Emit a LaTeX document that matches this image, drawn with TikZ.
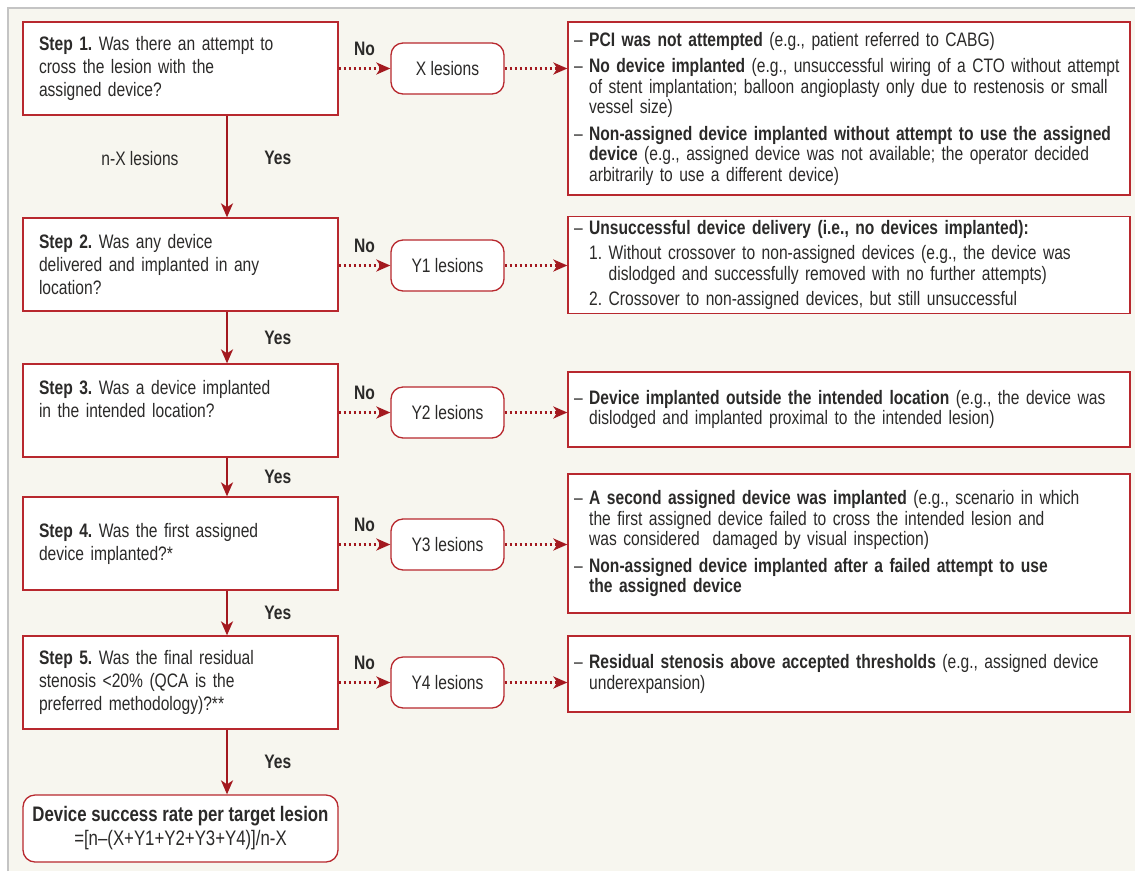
\documentclass[tikz,border=0pt]{standalone}
\usepackage{fontspec}
\setmainfont{Liberation Sans}[FakeStretch=0.8]
\usepackage{tikz}
\usetikzlibrary{positioning,arrows.meta}
\usepackage{xcolor}
\definecolor{boxred}{HTML}{B8282E}
\definecolor{arrred}{HTML}{A3191F}
\definecolor{panel}{HTML}{F7F6EF}
\definecolor{ink}{HTML}{2B2A29}
\definecolor{rim}{HTML}{C4C4C4}
\newcommand{\dind}{\hphantom{\textendash\ }}
\frenchspacing
\hyphenpenalty=10000

\begin{document}
\begin{tikzpicture}[x=1pt,y=-1pt,>={Stealth[length=14pt,width=12pt,inset=4pt]},
  stepbox/.style={draw=boxred,line width=1.3pt,fill=white,minimum width=315pt,minimum height=93pt,
    text width=283pt,inner xsep=16pt,align=left,text=ink,font=\fontsize{19.5}{23}\selectfont},
  lesbox/.style={draw=boxred,line width=1.3pt,fill=white,rounded corners=12pt,minimum width=113pt,
    minimum height=51pt,text=ink,font=\fontsize{19.5}{22}\selectfont},
  descbox/.style={draw=boxred,line width=1.3pt,fill=white,minimum width=562pt,text width=550pt,
    inner xsep=6pt,align=left,text=ink,font=\fontsize{19.5}{20.5}\selectfont},
  yesarrow/.style={->,draw=arrred,line width=2.2pt},
  noarrow/.style={->,draw=arrred,line width=2.4pt,dash pattern=on 2.6pt off 2.4pt},
  lbl/.style={text=ink,font=\fontsize{19.5}{22}\selectfont\bfseries}]
% panel
\useasboundingbox (0,0) rectangle (1135,871);
\fill[white] (0,0) rectangle (1135,871);
\fill[panel] (8,8) rectangle (1135,871);
\draw[rim,line width=2pt] (8,871) -- (8,8) -- (1135,8);
\coordinate (spine) at (227,0);

% steps
\node[stepbox] (s1) at (180.5,68.5) {\textbf{Step 1.} Was there an attempt to\\cross the lesion with the\\assigned device?};
\node[stepbox] (s2) at (180.5,264.5) {\textbf{Step 2.} Was any device\\delivered and implanted in any\\location?};
\node[stepbox] (s3) at (180.5,410.5) {\textbf{Step 3.} Was a device implanted\\in the intended location?\\\mbox{}};
\node[stepbox] (s4) at (180.5,543.5) {\textbf{Step 4.} Was the first assigned\\device implanted?*};
\node[stepbox] (s5) at (180.5,682.5) {\textbf{Step 5.} Was the final residual\\stenosis <20\% (QCA is the\\preferred methodology)?**};
\node[lesbox,minimum width=315pt,minimum height=67pt,align=center,font=\fontsize{21}{24}\selectfont] (rate) at (180.5,828.5)
  {\textbf{Device success rate per target lesion}\\=[n\textendash(X+Y1+Y2+Y3+Y4)]/n-X};

% lesion counts
\node[lesbox] (x) at (447.5,68.5) {X lesions};
\node[lesbox] (y1) at (447.5,265.5) {Y1 lesions};
\node[lesbox] (y2) at (447.5,412.5) {Y2 lesions};
\node[lesbox] (y3) at (447.5,544.5) {Y3 lesions};
\node[lesbox] (y4) at (447.5,682.5) {Y4 lesions};

% descriptions
\node[descbox,minimum height=173pt] (d1) at (849,108.5) {%
\textendash\ \textbf{PCI was not attempted} (e.g., patient referred to CABG)\\[6pt]
\textendash\ \textbf{No device implanted} (e.g., unsuccessful wiring of a CTO without attempt\\
\dind of stent implantation; balloon angioplasty only due to restenosis or small\\
\dind vessel size)\\[6pt]
\textendash\ \textbf{Non-assigned device implanted without attempt to use the assigned}\\
\dind\textbf{device} (e.g., assigned device was not available; the operator decided\\
\dind arbitrarily to use a different device)};
\node[descbox,minimum height=94pt] (d2) at (849,265) {%
\textendash\ \textbf{Unsuccessful device delivery (i.e., no devices implanted):}\\[5pt]
\dind 1. Without crossover to non-assigned devices (e.g., the device was\\
\dind\hphantom{1. }dislodged and successfully removed with no further attempts)\\[5pt]
\dind 2. Crossover to non-assigned devices, but still unsuccessful};
\node[descbox,minimum height=75pt] (d3) at (849,409.5) {%
\textendash\ \textbf{Device implanted outside the intended location} (e.g., the device was\\
\dind dislodged and implanted proximal to the intended lesion)};
\node[descbox,minimum height=139pt] (d4) at (849,543.5) {%
\textendash\ \textbf{A second assigned device was implanted} (e.g., scenario in which\\
\dind the first assigned device failed to cross the intended lesion and\\
\dind was considered\ \ damaged by visual inspection)\\[6pt]
\textendash\ \textbf{Non-assigned device implanted after a failed attempt to use}\\
\dind\textbf{the assigned device}};
\node[descbox,minimum height=76pt] (d5) at (849,674) {%
\textendash\ \textbf{Residual stenosis above accepted thresholds} (e.g., assigned device\\
\dind underexpansion)};

% yes path
\draw[yesarrow] (s1.south -| spine) -- (s2.north -| spine)
  node[pos=0.42,right=33pt,lbl] {Yes} node[pos=0.42,left=44pt,text=ink,font=\fontsize{19.5}{22}\selectfont] {n-X lesions};
\draw[yesarrow] (s2.south -| spine) -- (s3.north -| spine) node[midway,right=33pt,lbl] {Yes};
\draw[yesarrow] (s3.south -| spine) -- (s4.north -| spine) node[midway,right=33pt,lbl] {Yes};
\draw[yesarrow] (s4.south -| spine) -- (s5.north -| spine) node[midway,right=33pt,lbl] {Yes};
\draw[yesarrow] (s5.south -| spine) -- (rate.north -| spine) node[midway,right=33pt,lbl] {Yes};

% no path
\draw[noarrow] (s1.east |- x) -- (x.west) node[midway,above=8pt,lbl] {No};
\draw[noarrow] (s2.east |- y1) -- (y1.west) node[midway,above=8pt,lbl] {No};
\draw[noarrow] (s3.east |- y2) -- (y2.west) node[midway,above=8pt,lbl] {No};
\draw[noarrow] (s4.east |- y3) -- (y3.west) node[midway,above=8pt,lbl] {No};
\draw[noarrow] (s5.east |- y4) -- (y4.west) node[midway,above=8pt,lbl] {No};
\draw[noarrow] (x.east) -- (d1.west |- x);
\draw[noarrow] (y1.east) -- (d2.west |- y1);
\draw[noarrow] (y2.east) -- (d3.west |- y2);
\draw[noarrow] (y3.east) -- (d4.west |- y3);
\draw[noarrow] (y4.east) -- (d5.west |- y4);
\end{tikzpicture}
\end{document}
